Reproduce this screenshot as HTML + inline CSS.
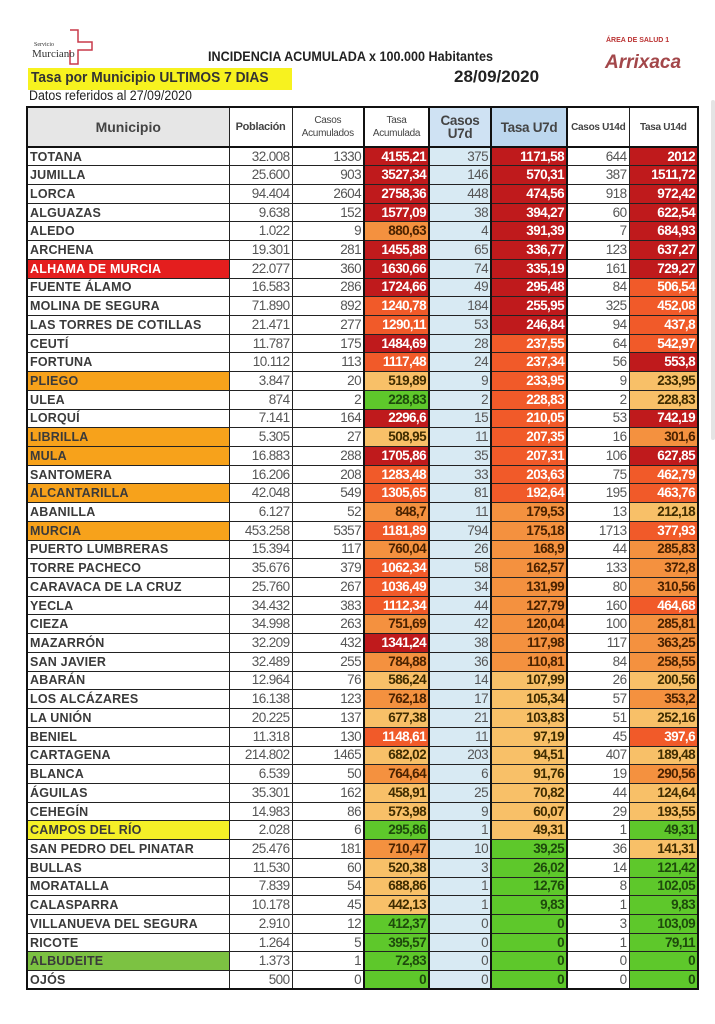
<!DOCTYPE html>
<html><head><meta charset="utf-8"><style>
body{margin:0;width:715px;height:1024px;background:#fff;position:relative;overflow:hidden;font-family:"Liberation Sans",sans-serif;color:#333}
.abs{position:absolute;white-space:nowrap}
table{position:absolute;left:26px;top:106px;border-collapse:collapse;table-layout:fixed;width:671px;border:2px solid #111}
td,th{border:1px solid #222;padding:0 2px;overflow:hidden;white-space:nowrap}
th{height:38px;font-size:10px;font-weight:normal;color:#444;background:#fff;border-bottom:2px solid #111;line-height:13px;letter-spacing:-.3px}
th.m{background:#e6e6e6;font-size:14px;font-weight:bold;color:#444;letter-spacing:0}
th.b1{background:#cfe2f3;font-size:13.5px;font-weight:bold}
th.b2{background:#bdd7ee;font-size:13.5px;font-weight:bold}
tr{height:18.73px}
td{font-size:13.5px;text-align:right;color:#555;line-height:16px;letter-spacing:-.6px}
td:first-child{text-align:left;font-weight:bold;font-size:12.5px;color:#3a3a3a;letter-spacing:.2px}
td:nth-child(5){background:#d8eaf3}
td:nth-child(4),td:nth-child(6),td:nth-child(8){font-weight:bold}
td:nth-child(4),th:nth-child(4),td:nth-child(5),th:nth-child(5),td:nth-child(6),th:nth-child(6),td:nth-child(7),th:nth-child(7){border-left:2px solid #111}
.R{background:#bf1a1c;color:#fff}
.O{background:#f15a29;color:#fff}
.M{background:#f4913f;color:#4a2200}
.L{background:#f8c068;color:#3f2c00}
.G{background:#5ec82b;color:#1e4a0c}
td.hy{background:#f7a21b}
td.hr{background:#e41e1e;color:#fff}
td.hye{background:#f5f027}
td.hg{background:#7cc242}
</style></head><body>
<div class="abs" style="left:30px;top:28px;width:72px;height:40px">
<svg width="72" height="40"><path d="M40 2h8v12h14v8h-14v14h-8v-14" fill="none" stroke="#c83a4a" stroke-width="1.5"/></svg>
<div class="abs" style="left:4px;top:14px;font-family:'Liberation Serif',serif;font-size:6px;color:#333">Servicio</div>
<div class="abs" style="left:2px;top:20px;font-family:'Liberation Serif',serif;font-size:11px;color:#333">Murciano</div>
</div>
<div class="abs" style="left:208px;top:48px;font-size:14px;font-weight:bold;color:#222;transform:scaleX(.9);transform-origin:left">INCIDENCIA ACUMULADA x 100.000 Habitantes</div>
<div class="abs" style="left:28px;top:68px;width:264px;height:22px;background:#f7f21f"></div>
<div class="abs" style="left:31px;top:70px;font-size:14.5px;font-weight:bold;color:#333;transform:scaleX(.95);transform-origin:left">Tasa por Municipio ULTIMOS 7 DIAS</div>
<div class="abs" style="left:454px;top:67px;font-size:17px;font-weight:bold;color:#222">28/09/2020</div>
<div class="abs" style="left:29px;top:88px;font-size:13.5px;color:#222;transform:scaleX(.92);transform-origin:left">Datos referidos al 27/09/2020</div>
<div class="abs" style="left:606px;top:37px;font-size:7px;font-weight:bold;color:#b33">ÁREA DE SALUD 1</div>
<div class="abs" style="left:605px;top:52px;font-size:19px;font-weight:bold;font-style:italic;color:#a3474a">Arrixaca</div>
<div class="abs" style="left:711px;top:100px;width:4px;height:340px;background:#e4e4e4;border-radius:2px"></div>
<table>
<colgroup><col style="width:202px"><col style="width:63px"><col style="width:72px"><col style="width:65px"><col style="width:62px"><col style="width:76px"><col style="width:62px"><col style="width:69px"></colgroup>
<tr><th class="m">Municipio</th><th style="font-size:11px;font-weight:bold">Población</th><th>Casos<br>Acumulados</th><th>Tasa<br>Acumulada</th><th class="b1">Casos<br>U7d</th><th class="b2">Tasa U7d</th><th style="font-weight:bold">Casos U14d</th><th style="font-weight:bold">Tasa U14d</th></tr>
<tr><td>TOTANA</td><td>32.008</td><td>1330</td><td class="R">4155,21</td><td>375</td><td class="R">1171,58</td><td>644</td><td class="R">2012</td></tr>
<tr><td>JUMILLA</td><td>25.600</td><td>903</td><td class="R">3527,34</td><td>146</td><td class="R">570,31</td><td>387</td><td class="R">1511,72</td></tr>
<tr><td>LORCA</td><td>94.404</td><td>2604</td><td class="R">2758,36</td><td>448</td><td class="R">474,56</td><td>918</td><td class="R">972,42</td></tr>
<tr><td>ALGUAZAS</td><td>9.638</td><td>152</td><td class="R">1577,09</td><td>38</td><td class="R">394,27</td><td>60</td><td class="R">622,54</td></tr>
<tr><td>ALEDO</td><td>1.022</td><td>9</td><td class="M">880,63</td><td>4</td><td class="R">391,39</td><td>7</td><td class="R">684,93</td></tr>
<tr><td>ARCHENA</td><td>19.301</td><td>281</td><td class="R">1455,88</td><td>65</td><td class="R">336,77</td><td>123</td><td class="R">637,27</td></tr>
<tr><td class="hr">ALHAMA DE MURCIA</td><td>22.077</td><td>360</td><td class="R">1630,66</td><td>74</td><td class="R">335,19</td><td>161</td><td class="R">729,27</td></tr>
<tr><td>FUENTE ÁLAMO</td><td>16.583</td><td>286</td><td class="R">1724,66</td><td>49</td><td class="R">295,48</td><td>84</td><td class="O">506,54</td></tr>
<tr><td>MOLINA DE SEGURA</td><td>71.890</td><td>892</td><td class="O">1240,78</td><td>184</td><td class="R">255,95</td><td>325</td><td class="O">452,08</td></tr>
<tr><td>LAS TORRES DE COTILLAS</td><td>21.471</td><td>277</td><td class="O">1290,11</td><td>53</td><td class="R">246,84</td><td>94</td><td class="O">437,8</td></tr>
<tr><td>CEUTÍ</td><td>11.787</td><td>175</td><td class="R">1484,69</td><td>28</td><td class="O">237,55</td><td>64</td><td class="O">542,97</td></tr>
<tr><td>FORTUNA</td><td>10.112</td><td>113</td><td class="O">1117,48</td><td>24</td><td class="O">237,34</td><td>56</td><td class="R">553,8</td></tr>
<tr><td class="hy">PLIEGO</td><td>3.847</td><td>20</td><td class="L">519,89</td><td>9</td><td class="O">233,95</td><td>9</td><td class="L">233,95</td></tr>
<tr><td>ULEA</td><td>874</td><td>2</td><td class="G">228,83</td><td>2</td><td class="O">228,83</td><td>2</td><td class="L">228,83</td></tr>
<tr><td>LORQUÍ</td><td>7.141</td><td>164</td><td class="R">2296,6</td><td>15</td><td class="O">210,05</td><td>53</td><td class="R">742,19</td></tr>
<tr><td class="hy">LIBRILLA</td><td>5.305</td><td>27</td><td class="L">508,95</td><td>11</td><td class="O">207,35</td><td>16</td><td class="M">301,6</td></tr>
<tr><td class="hy">MULA</td><td>16.883</td><td>288</td><td class="R">1705,86</td><td>35</td><td class="O">207,31</td><td>106</td><td class="R">627,85</td></tr>
<tr><td>SANTOMERA</td><td>16.206</td><td>208</td><td class="O">1283,48</td><td>33</td><td class="O">203,63</td><td>75</td><td class="O">462,79</td></tr>
<tr><td class="hy">ALCANTARILLA</td><td>42.048</td><td>549</td><td class="O">1305,65</td><td>81</td><td class="O">192,64</td><td>195</td><td class="O">463,76</td></tr>
<tr><td>ABANILLA</td><td>6.127</td><td>52</td><td class="M">848,7</td><td>11</td><td class="M">179,53</td><td>13</td><td class="L">212,18</td></tr>
<tr><td class="hy">MURCIA</td><td>453.258</td><td>5357</td><td class="O">1181,89</td><td>794</td><td class="M">175,18</td><td>1713</td><td class="O">377,93</td></tr>
<tr><td>PUERTO LUMBRERAS</td><td>15.394</td><td>117</td><td class="M">760,04</td><td>26</td><td class="M">168,9</td><td>44</td><td class="M">285,83</td></tr>
<tr><td>TORRE PACHECO</td><td>35.676</td><td>379</td><td class="O">1062,34</td><td>58</td><td class="M">162,57</td><td>133</td><td class="M">372,8</td></tr>
<tr><td>CARAVACA DE LA CRUZ</td><td>25.760</td><td>267</td><td class="O">1036,49</td><td>34</td><td class="M">131,99</td><td>80</td><td class="M">310,56</td></tr>
<tr><td>YECLA</td><td>34.432</td><td>383</td><td class="O">1112,34</td><td>44</td><td class="M">127,79</td><td>160</td><td class="O">464,68</td></tr>
<tr><td>CIEZA</td><td>34.998</td><td>263</td><td class="M">751,69</td><td>42</td><td class="M">120,04</td><td>100</td><td class="M">285,81</td></tr>
<tr><td>MAZARRÓN</td><td>32.209</td><td>432</td><td class="R">1341,24</td><td>38</td><td class="M">117,98</td><td>117</td><td class="M">363,25</td></tr>
<tr><td>SAN JAVIER</td><td>32.489</td><td>255</td><td class="M">784,88</td><td>36</td><td class="M">110,81</td><td>84</td><td class="M">258,55</td></tr>
<tr><td>ABARÁN</td><td>12.964</td><td>76</td><td class="L">586,24</td><td>14</td><td class="L">107,99</td><td>26</td><td class="L">200,56</td></tr>
<tr><td>LOS ALCÁZARES</td><td>16.138</td><td>123</td><td class="M">762,18</td><td>17</td><td class="L">105,34</td><td>57</td><td class="M">353,2</td></tr>
<tr><td>LA UNIÓN</td><td>20.225</td><td>137</td><td class="L">677,38</td><td>21</td><td class="L">103,83</td><td>51</td><td class="L">252,16</td></tr>
<tr><td>BENIEL</td><td>11.318</td><td>130</td><td class="O">1148,61</td><td>11</td><td class="L">97,19</td><td>45</td><td class="O">397,6</td></tr>
<tr><td>CARTAGENA</td><td>214.802</td><td>1465</td><td class="L">682,02</td><td>203</td><td class="L">94,51</td><td>407</td><td class="L">189,48</td></tr>
<tr><td>BLANCA</td><td>6.539</td><td>50</td><td class="M">764,64</td><td>6</td><td class="L">91,76</td><td>19</td><td class="M">290,56</td></tr>
<tr><td>ÁGUILAS</td><td>35.301</td><td>162</td><td class="L">458,91</td><td>25</td><td class="L">70,82</td><td>44</td><td class="L">124,64</td></tr>
<tr><td>CEHEGÍN</td><td>14.983</td><td>86</td><td class="L">573,98</td><td>9</td><td class="L">60,07</td><td>29</td><td class="L">193,55</td></tr>
<tr><td class="hye">CAMPOS DEL RÍO</td><td>2.028</td><td>6</td><td class="G">295,86</td><td>1</td><td class="L">49,31</td><td>1</td><td class="G">49,31</td></tr>
<tr><td>SAN PEDRO DEL PINATAR</td><td>25.476</td><td>181</td><td class="M">710,47</td><td>10</td><td class="G">39,25</td><td>36</td><td class="L">141,31</td></tr>
<tr><td>BULLAS</td><td>11.530</td><td>60</td><td class="L">520,38</td><td>3</td><td class="G">26,02</td><td>14</td><td class="G">121,42</td></tr>
<tr><td>MORATALLA</td><td>7.839</td><td>54</td><td class="L">688,86</td><td>1</td><td class="G">12,76</td><td>8</td><td class="G">102,05</td></tr>
<tr><td>CALASPARRA</td><td>10.178</td><td>45</td><td class="L">442,13</td><td>1</td><td class="G">9,83</td><td>1</td><td class="G">9,83</td></tr>
<tr><td>VILLANUEVA DEL SEGURA</td><td>2.910</td><td>12</td><td class="G">412,37</td><td>0</td><td class="G">0</td><td>3</td><td class="G">103,09</td></tr>
<tr><td>RICOTE</td><td>1.264</td><td>5</td><td class="G">395,57</td><td>0</td><td class="G">0</td><td>1</td><td class="G">79,11</td></tr>
<tr><td class="hg">ALBUDEITE</td><td>1.373</td><td>1</td><td class="G">72,83</td><td>0</td><td class="G">0</td><td>0</td><td class="G">0</td></tr>
<tr><td>OJÓS</td><td>500</td><td>0</td><td class="G">0</td><td>0</td><td class="G">0</td><td>0</td><td class="G">0</td></tr>
</table>
</body></html>
